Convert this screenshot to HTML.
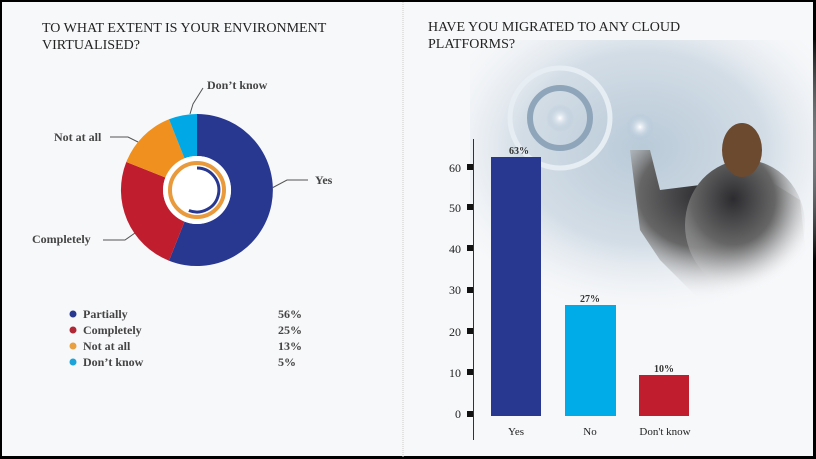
<!DOCTYPE html>
<html><head><meta charset="utf-8"><style>
html,body{margin:0;padding:0}
body{width:816px;height:459px;position:relative;background:#000;overflow:hidden;font-family:"Liberation Serif",serif}
.panel{position:absolute;top:2px;left:2px;width:811px;height:454px;background:#f7f8fa}
.t{position:absolute;font-size:14px;color:#222;line-height:17px}
</style></head><body>
<div class="panel"></div>
<svg width="816" height="459" style="position:absolute;left:0;top:0">
<defs>
<radialGradient id="bg" cx="0.5" cy="0.4" r="0.65">
<stop offset="0" stop-color="#b9cad8"/><stop offset="0.55" stop-color="#d3dde6"/><stop offset="1" stop-color="#f7f8fa" stop-opacity="0"/></radialGradient>
<radialGradient id="wm" cx="0.4" cy="0.3" r="0.7">
<stop offset="0" stop-color="#2c2c30"/><stop offset="0.5" stop-color="#666"/><stop offset="1" stop-color="#f7f8fa" stop-opacity="0"/></radialGradient>
<radialGradient id="gl" cx="0.5" cy="0.5" r="0.5"><stop offset="0" stop-color="#fff"/><stop offset="1" stop-color="#9fb8d0" stop-opacity="0"/></radialGradient>
</defs>
<line x1="403" y1="2" x2="403" y2="457" stroke="#ccc" stroke-dasharray="1 1"/>
<rect x="470" y="40" width="346" height="270" fill="url(#bg)"/>
<circle cx="560" cy="118" r="50" fill="none" stroke="#e6edf3" stroke-width="5"/>
<circle cx="560" cy="118" r="30" fill="none" stroke="#8fa5ba" stroke-width="6"/>
<circle cx="560" cy="118" r="14" fill="url(#gl)"/>
<circle cx="640" cy="127" r="14" fill="url(#gl)"/>
<path d="M630,150 L650,150 L660,190 L700,185 L760,175 L800,200 L810,290 L700,300 L660,260 L640,230 Z" fill="url(#wm)"/>
<ellipse cx="745" cy="225" rx="60" ry="65" fill="url(#wm)"/>
<ellipse cx="742" cy="150" rx="20" ry="27" fill="#6b4a30"/>
<!-- donut -->
<path d="M197,114 A76,76 0 1 1 169.0,260.7 L184.5,221.6 A34,34 0 1 0 197,156Z" fill="#283891"/>
<path d="M169.0,260.7 A76,76 0 0 1 126.3,162.0 L165.4,177.5 A34,34 0 0 0 184.5,221.6Z" fill="#c01e2e"/>
<path d="M126.3,162.0 A76,76 0 0 1 169.0,119.3 L184.5,158.4 A34,34 0 0 0 165.4,177.5Z" fill="#f0901e"/>
<path d="M169.0,119.3 A76,76 0 0 1 197,114 L197,156 A34,34 0 0 0 184.5,158.4Z" fill="#00a9e6"/>
<circle cx="197" cy="190" r="34" fill="#fff"/>
<circle cx="197" cy="190" r="27" fill="none" stroke="#e89a3c" stroke-width="4"/>
<path d="M197,168 A22,22 0 1 1 188.9,210.5" fill="none" stroke="#283891" stroke-width="3"/>
<g stroke="#555" fill="none" stroke-width="1">
<polyline points="272,188 287,180 308,180"/>
<polyline points="103,240 125,240 135,233"/>
<polyline points="110,137 128,137 138,142"/>
<polyline points="203,88 193,104 190,114"/>
</g>
<g font-family="Liberation Serif,serif" font-weight="bold" font-size="12" fill="#444">
<text x="315" y="184">Yes</text>
<text x="32" y="243">Completely</text>
<text x="54" y="141">Not at all</text>
<text x="207" y="89">Don’t know</text>
</g>
<g font-family="Liberation Serif,serif" font-weight="bold" font-size="12" fill="#444">
<circle cx="73" cy="314" r="3.5" fill="#283891"/><text x="83" y="318">Partially</text><text x="278" y="318">56%</text>
<circle cx="73" cy="330" r="3.5" fill="#b02835"/><text x="83" y="334">Completely</text><text x="278" y="334">25%</text>
<circle cx="73" cy="346" r="3.5" fill="#e8a040"/><text x="83" y="350">Not at all</text><text x="278" y="350">13%</text>
<circle cx="73" cy="362" r="3.5" fill="#1aa4da"/><text x="83" y="366">Don’t know</text><text x="278" y="366">5%</text>
</g>
<!-- bar chart -->
<line x1="473.5" y1="139" x2="473.5" y2="440" stroke="#333"/>
<g fill="#111">
<rect x="467" y="164" width="6" height="6"/><rect x="467" y="204" width="6" height="6"/><rect x="467" y="245" width="6" height="6"/><rect x="467" y="287" width="6" height="6"/><rect x="467" y="328" width="6" height="6"/><rect x="467" y="369" width="6" height="6"/><rect x="467" y="411" width="6" height="6"/>
</g>
<g font-family="Liberation Serif,serif" font-size="12" fill="#222" text-anchor="end">
<text x="461" y="172">60</text><text x="461" y="212">50</text><text x="461" y="253">40</text><text x="461" y="294">30</text><text x="461" y="336">20</text><text x="461" y="377">10</text><text x="461" y="418">0</text>
</g>
<rect x="491" y="157" width="50" height="259" fill="#283891"/>
<rect x="565" y="305" width="51" height="111" fill="#00ace8"/>
<rect x="639" y="375" width="50" height="41" fill="#c01e2e"/>
<g font-family="Liberation Serif,serif" font-weight="bold" font-size="10" fill="#333" text-anchor="middle">
<text x="519" y="154">63%</text><text x="590" y="302">27%</text><text x="664" y="372">10%</text>
</g>
<g font-family="Liberation Serif,serif" font-size="11" fill="#222" text-anchor="middle">
<text x="516" y="435">Yes</text><text x="590" y="435">No</text><text x="665" y="435">Don't know</text>
</g>
</svg>
<div class="t" style="left:42px;top:20px">TO WHAT EXTENT IS YOUR ENVIRONMENT<br>VIRTUALISED?</div>
<div class="t" style="left:428px;top:19px">HAVE YOU MIGRATED TO ANY CLOUD<br>PLATFORMS?</div>
</body></html>
